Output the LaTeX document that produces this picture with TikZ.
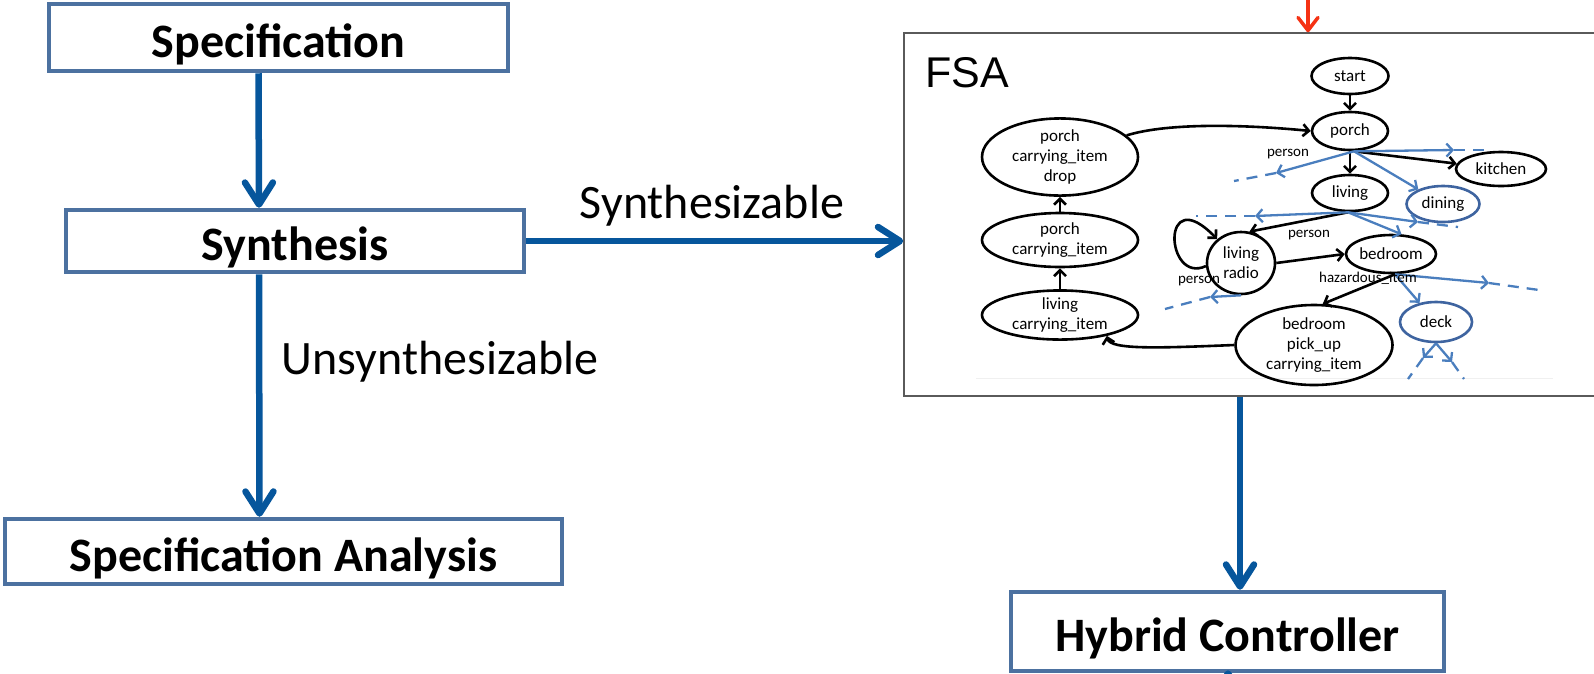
\documentclass[tikz,border=0pt]{standalone}
\usepackage{fontspec}
\setmainfont{Carlito}
\newfontfamily\arialfont{Liberation Sans}
\usetikzlibrary{arrows.meta,shapes.geometric}
\definecolor{boxblue}{RGB}{76,113,160}
\definecolor{flowblue}{RGB}{6,86,156}
\definecolor{fsablue}{RGB}{74,126,190}
\definecolor{fsaedge}{RGB}{62,100,160}
\definecolor{fsaframe}{RGB}{90,90,90}
\definecolor{topred}{RGB}{245,50,20}

\begin{document}
\begin{tikzpicture}[x=1pt,y=-1pt,
  mainbox/.style={draw=boxblue, line width=4.5pt, fill=white, inner sep=0pt,
    text height=39pt, text depth=0pt,
    font=\bfseries\fontsize{48}{52}\selectfont},
  flow/.style={draw=flowblue, line width=6.5pt, -{Straight Barb[length=22pt,width=28pt,round]}},
  flowlabel/.style={font=\fontsize{48}{52}\selectfont, inner sep=0pt},
  st/.style={ellipse, draw=black, line width=2.6pt, inner sep=0pt, align=center,
    font=\fontsize{17}{20}\selectfont},
  bst/.style={st, draw=fsaedge},
  tr/.style={draw=black, line width=2.6pt, -{Straight Barb[length=6pt,width=12pt]}},
  btr/.style={draw=fsablue, line width=2.3pt, -{Straight Barb[length=6pt,width=13pt]}},
  bdash/.style={draw=fsablue, line width=2.3pt, dash pattern=on 11pt off 8pt},
  lbl/.style={font=\fontsize{15}{17}\selectfont, inner sep=0pt},
]
\useasboundingbox (0,0) rectangle (1594,673);

% left column of the tool flow
\node[mainbox, minimum width=459pt, minimum height=67pt] (spec) at (278.5,37.5) {Specification};
\node[mainbox, minimum width=458pt, minimum height=62pt] (synth) at (295,241) {Synthesis};
\node[mainbox, minimum width=557pt, minimum height=65pt] (anal) at (283.5,551.5) {Specification Analysis};
\node[mainbox, minimum width=433pt, minimum height=79pt] (hybrid) at (1227.5,631.5) {Hybrid Controller};

% automaton frame
\node[draw=fsaframe, line width=1.5pt, fill=white, minimum width=706pt, minimum height=363pt, inner sep=0pt] (fsa) at (1257,214.5) {};
\node[font=\arialfont\fontsize{43}{47}\selectfont, inner sep=0pt] (fsatitle) at (967,73) {FSA};
\draw[gray!12, line width=1pt] (976,378) -- (1553,378);

% flow arrows
\draw[flow] ([xshift=-20pt]spec.south) -- ([xshift=-36pt]synth.north);
\draw[flow] ([xshift=-36pt]synth.south) -- ([xshift=-24pt]anal.north);
\draw[flow] (synth.east) -- (fsa.west |- synth.east);
\draw[flow] (fsa.south -| 1240,0) -- (hybrid.north -| 1240,0);
\coordinate (below) at (1228,760);
\draw[flow, shorten >=-3pt] (below) -- (hybrid.south -| below);
\coordinate (abovefsa) at (1308,-10);
\draw[draw=topred, line width=3.5pt, -{Straight Barb[length=13pt,width=20pt,round]}] (abovefsa) -- (fsa.north -| abovefsa);

\node[flowlabel] (lsyn) at (712,206) {Synthesizable};
\node[flowlabel] (lunsyn) at (440,362) {Unsynthesizable};

% automaton states
\node[st, minimum width=77pt, minimum height=36pt] (start) at (1350,76) {start};
\node[st, minimum width=76pt, minimum height=38pt] (porch) at (1350,131) {porch};
\node[st, minimum width=90pt, minimum height=34pt] (kitchen) at (1501,169) {kitchen};
\node[st, minimum width=76pt, minimum height=36pt] (living) at (1350,193) {living};
\node[bst, minimum width=73pt, minimum height=36pt] (dining) at (1443,204) {dining};
\node[st, minimum width=68pt, minimum height=62pt] (lradio) at (1241,263) {living\\radio};
\node[st, minimum width=90pt, minimum height=38pt] (bedroom) at (1391,254) {bedroom};
\node[bst, minimum width=72pt, minimum height=40pt] (deck) at (1436,322) {deck};
\node[st, minimum width=157pt, minimum height=80pt] (bpc) at (1314,345) {bedroom\\pick\_up\\carrying\_item};
\node[st, minimum width=156pt, minimum height=60pt] (pcd) at (1060,157) {porch\\carrying\_item\\drop};
\node[st, minimum width=156pt, minimum height=54pt] (pc) at (1060,240) {porch\\carrying\_item};
\node[st, minimum width=156pt, minimum height=43pt] (lc) at (1060,315) {living\\carrying\_item};

% black transitions
\draw[tr] (start) -- (porch);
\draw[tr] (pcd.18) .. controls (1170,122) and (1250,125) .. (porch.west);
\coordinate (pfan) at ([xshift=4pt]porch.south);
\draw[tr] (porch) -- (living);
\draw[tr] (pfan) -- (kitchen);
\coordinate (lfan) at ([xshift=-2pt]living.south);
\draw[tr] (lfan) -- (lradio.75);
\draw[tr] (lradio.185) .. controls (1165,285) and (1160,180) .. (lradio.135);
\draw[tr] (lradio.east) -- (bedroom.west);
\coordinate (bfan) at ([xshift=4pt]bedroom.south);
\draw[tr] (bfan) -- (bpc.78);
\draw[tr] (bpc.west) .. controls (1160,348) and (1110,350) .. (lc.-24);
\draw[tr] (lc) -- (pc);
\draw[tr] (pc) -- (pcd);

% blue transitions, cut off with dashes
\coordinate (pR) at (1454,150);
\coordinate (pRd) at (1484,150);
\coordinate (pL) at (1276,173);
\coordinate (pLd) at (1234,181);
\draw[btr] (pfan) -- (pR);
\draw[bdash] (pR) -- (pRd);
\draw[btr] (pfan) -- (dining);
\draw[btr] (pfan) -- (pL);
\draw[bdash] (pL) -- (pLd);

\coordinate (lL) at (1255,216);
\coordinate (lLd) at (1196,216);
\coordinate (lR) at (1418,222);
\coordinate (lRd) at (1458,227);
\draw[btr] (lfan) -- (lL);
\draw[bdash] (lL) -- (lLd);
\draw[btr] (lfan) -- (bedroom.62);
\draw[btr] (lfan) -- (lR);
\draw[bdash] (lR) -- (lRd);

\coordinate (rL) at (1210,297);
\coordinate (rLd) at (1165,309);
\draw[btr] (lradio.south) -- (rL);
\draw[bdash] (rL) -- (rLd);

\coordinate (bR) at (1489,283);
\coordinate (bRd) at (1539,290);
\draw[btr] (bfan) -- (deck);
\draw[btr] (bfan) -- (bR);
\draw[bdash] (bR) -- (bRd);

\coordinate (dL) at (1423,358);
\coordinate (dLd) at (1408,379);
\coordinate (dR) at (1452,362);
\coordinate (dRd) at (1464,379);
\draw[btr] (deck.south) -- (dL);
\draw[bdash] (dL) -- (dLd);
\draw[btr] (deck.south) -- (dR);
\draw[bdash] (dR) -- (dRd);

% transition labels
\node[lbl] (t1) at (1288,154) {person};
\node[lbl] (t2) at (1309,235) {person};
\node[lbl] (t3) at (1199,281) {person};
\node[lbl] (t4) at (1368,278) {hazardous\_item};
\end{tikzpicture}
\end{document}
